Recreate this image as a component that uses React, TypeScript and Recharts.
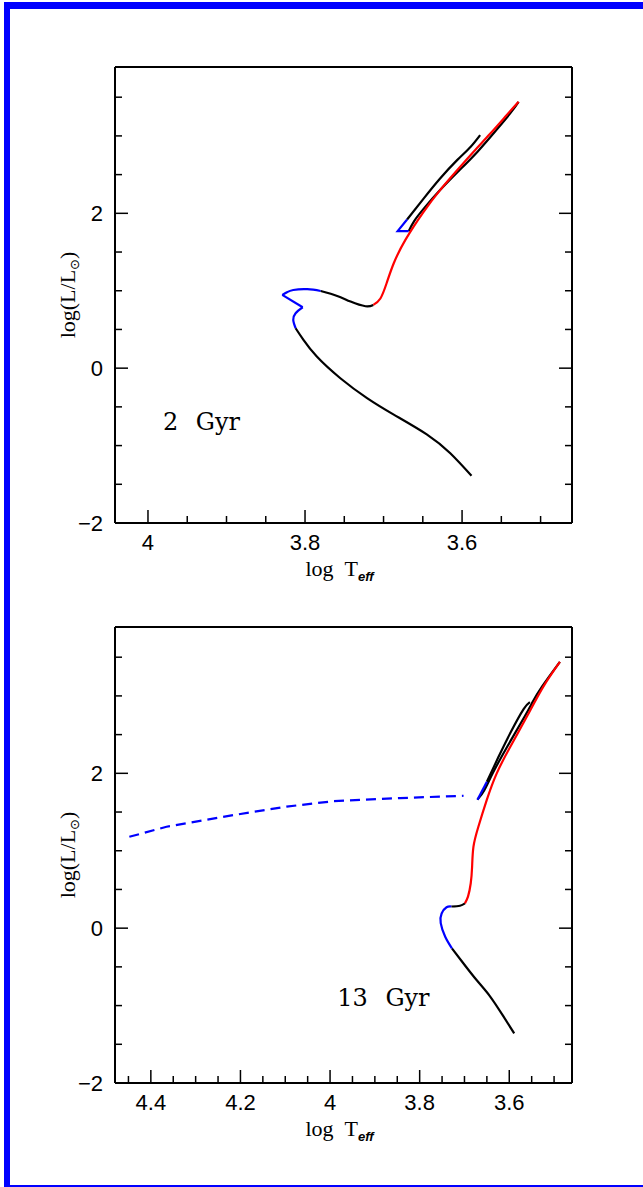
import React from 'react';
import { ComposedChart, Line, XAxis, YAxis, ReferenceDot, Label } from 'recharts';

type P = [number, number]; // [log Teff, log L]

// ---------- 2 Gyr isochrone ----------
const ms2: P[] = [[3.588, -1.39], [3.615, -1.1], [3.645, -0.855], [3.687, -0.6], [3.721, -0.387], [3.755, -0.13], [3.785, 0.15], [3.802, 0.365], [3.812, 0.516]];
const hookA2: P[] = [[3.812, 0.516], [3.815, 0.623], [3.812, 0.71], [3.803, 0.787]];
const hookB2: P[] = [[3.803, 0.787], [3.829, 0.946]];
const hookC2: P[] = [[3.829, 0.946], [3.823, 0.98], [3.815, 1.01], [3.797, 1.02], [3.78, 0.997]];
const sgb2: P[] = [[3.78, 0.997], [3.759, 0.933], [3.742, 0.86], [3.723, 0.8], [3.713, 0.817]];
const rgb2: P[] = [[3.713, 0.817], [3.704, 0.9], [3.696, 1.1], [3.687, 1.355], [3.672, 1.66], [3.649, 2.02], [3.628, 2.3], [3.606, 2.56], [3.585, 2.8], [3.564, 3.03], [3.543, 3.27], [3.528, 3.44]];
const tip2: P[] = [[3.528, 3.44], [3.538, 3.3], [3.556, 3.08], [3.58, 2.8], [3.605, 2.54], [3.628, 2.3], [3.648, 2.07], [3.661, 1.9], [3.668, 1.77]];
const hb2: P[] = [[3.668, 1.77], [3.682, 1.77], [3.67, 1.92]];
const agb2: P[] = [[3.67, 1.92], [3.649, 2.19], [3.628, 2.45], [3.606, 2.69], [3.589, 2.86], [3.577, 3.01]];

// ---------- 13 Gyr isochrone ----------
const ms13: P[] = [[3.589, -1.36], [3.613, -1.14], [3.643, -0.88], [3.673, -0.67], [3.703, -0.45], [3.728, -0.26]];
const hook13: P[] = [[3.728, -0.26], [3.743, -0.11], [3.753, 0.065], [3.751, 0.19], [3.74, 0.27], [3.729, 0.28]];
const sgb13: P[] = [[3.729, 0.28], [3.71, 0.29], [3.699, 0.32]];
const rgb13: P[] = [[3.699, 0.32], [3.692, 0.41], [3.686, 0.58], [3.683, 0.79], [3.68, 1.05], [3.669, 1.31], [3.65, 1.66], [3.628, 2.0], [3.598, 2.34], [3.561, 2.73], [3.524, 3.12], [3.487, 3.44]];
const tip13: P[] = [[3.487, 3.44], [3.527, 3.12], [3.548, 2.92], [3.566, 2.73], [3.605, 2.34], [3.637, 2.0], [3.656, 1.78], [3.671, 1.66]];
const hb13: P[] = [[3.671, 1.66], [3.65, 1.89]];
const agb13: P[] = [[3.65, 1.89], [3.625, 2.2], [3.596, 2.54], [3.568, 2.83], [3.554, 2.92]];
const bhb13: P[] = [[4.448, 1.18], [4.365, 1.31], [4.216, 1.46], [4.097, 1.57], [3.993, 1.64], [3.844, 1.68], [3.702, 1.71]];

// ---------- axes ----------
const xMajor2 = [4, 3.8, 3.6];
const xMinor2 = [3.95, 3.9, 3.85, 3.75, 3.7, 3.65, 3.55, 3.5];
const xMajor13 = [4.4, 4.2, 4, 3.8, 3.6];
const xMinor13 = [4.45, 4.35, 4.3, 4.25, 4.15, 4.1, 4.05, 3.95, 3.9, 3.85, 3.75, 3.7, 3.65, 3.55, 3.5];
const yMajor = [-2, 0, 2];
const yMinor = [-1.5, -1, -0.5, 0.5, 1, 1.5, 2.5, 3, 3.5];
const xDomain2: [number, number] = [3.46, 4.042];
const xDomain13: [number, number] = [3.46, 4.48];
const yDomain: [number, number] = [-2, 3.89];

const BLACK = '#000000';
const RED = '#ff0000';
const BLUE = '#0000ff';

type Seg = { pts: P[]; color: string; curve: 'natural' | 'linear'; dash?: string };

const segs2: Seg[] = [
  { pts: ms2, color: BLACK, curve: 'natural' },
  { pts: hookA2, color: BLUE, curve: 'natural' },
  { pts: hookB2, color: BLUE, curve: 'linear' },
  { pts: hookC2, color: BLUE, curve: 'natural' },
  { pts: sgb2, color: BLACK, curve: 'natural' },
  { pts: tip2, color: BLACK, curve: 'natural' },
  { pts: agb2, color: BLACK, curve: 'natural' },
  { pts: hb2, color: BLUE, curve: 'linear' },
  { pts: rgb2, color: RED, curve: 'natural' },
];

const segs13: Seg[] = [
  { pts: ms13, color: BLACK, curve: 'natural' },
  { pts: hook13, color: BLUE, curve: 'natural' },
  { pts: sgb13, color: BLACK, curve: 'natural' },
  { pts: tip13, color: BLACK, curve: 'natural' },
  { pts: agb13, color: BLACK, curve: 'natural' },
  { pts: hb13, color: BLUE, curve: 'linear' },
  { pts: rgb13, color: RED, curve: 'natural' },
  { pts: bhb13, color: BLUE, curve: 'linear', dash: '10 6' },
];

const toPts = (a: P[]) => a.map(([t, l]) => ({ t, l }));
const fmt = (v: number) => (v < 0 ? '\u2212' + Math.abs(v) : String(v));
const isIn = (arr: number[], v: number) => arr.some((m) => Math.abs(m - v) < 1e-9);
const sorted = (a: number[], b: number[]) => [...a, ...b].sort((p, q) => p - q);

const MAJOR_LEN = 13;
const MINOR_LEN = 7;
const TICK_FONT = "'Liberation Sans', Arial, sans-serif";
const X_GAP = 11;
const Y_GAP = 12;

type Side = 'bottom' | 'top' | 'left' | 'right';

const makeTick = (majors: number[], side: Side, withLabel: boolean) => (props: any) => {
  const { x, y, payload } = props;
  const v = payload.value as number;
  const major = isIn(majors, v);
  const len = major ? MAJOR_LEN : MINOR_LEN;
  let line: any = null;
  let label: any = null;
  if (side === 'bottom') {
    const y0 = y - X_GAP;
    line = <line x1={x} x2={x} y1={y0} y2={y0 - len} stroke="#000" strokeWidth={1.5} />;
    if (withLabel && major)
      label = (
        <text x={x} y={y} dy="0.71em" textAnchor="middle" fontFamily={TICK_FONT} fontSize={22} fill="#000">
          {fmt(v)}
        </text>
      );
  } else if (side === 'top') {
    line = <line x1={x} x2={x} y1={y} y2={y + len} stroke="#000" strokeWidth={1.5} />;
  } else if (side === 'left') {
    const x0 = x + Y_GAP;
    line = <line x1={x0} x2={x0 + len} y1={y} y2={y} stroke="#000" strokeWidth={1.5} />;
    if (withLabel && major)
      label = (
        <text x={x} y={y} dy="0.355em" textAnchor="end" fontFamily={TICK_FONT} fontSize={22} fill="#000">
          {fmt(v)}
        </text>
      );
  } else {
    line = <line x1={x} x2={x - len} y1={y} y2={y} stroke="#000" strokeWidth={1.5} />;
  }
  return (
    <g>
      {line}
      {label}
    </g>
  );
};

const XTitle = (props: any) => {
  const vb = props.viewBox || { x: 0, y: 0, width: 0, height: 0 };
  const cx = vb.x + vb.width / 2 - 4;
  const y = vb.y + 53;
  return (
    <text x={cx} y={y} textAnchor="middle" fontFamily="'Liberation Serif', serif" fontSize={22} fill="#000">
      log
      <tspan dx={11}>T</tspan>
      <tspan fontFamily="'Liberation Sans', sans-serif" fontWeight="bold" fontStyle="italic" fontSize={13} dy={5}>eff</tspan>
    </text>
  );
};

const YTitle = (props: any) => {
  const vb = props.viewBox || { x: 0, y: 0, width: 0, height: 0 };
  const x = vb.x + vb.width - 40;
  const cy = vb.y + vb.height / 2;
  return (
    <text x={x} y={cy} transform={`rotate(-90 ${x} ${cy})`} textAnchor="middle" fontFamily="'Liberation Serif', serif" fontSize={22} fill="#000">
      log(L/L
      <tspan fontFamily="'DejaVu Sans', sans-serif" fontSize={13} dy={4}>{'\u2299'}</tspan>
      <tspan dy={-4}>)</tspan>
    </text>
  );
};

type PanelProps = {
  xDomain: [number, number];
  xMajor: number[];
  xMinor: number[];
  segs: Seg[];
  ann: { t: number; l: number; text: string };
};

const frame = { stroke: '#000', strokeWidth: 2 };

function Panel({ xDomain, xMajor, xMinor, segs, ann }: PanelProps) {
  const xTicks = sorted(xMajor, xMinor);
  const yTicks = sorted(yMajor, yMinor);
  const commonX = { type: 'number' as const, domain: xDomain, reversed: true, allowDataOverflow: true, interval: 0 as const, ticks: xTicks, tickLine: false };
  const commonY = { type: 'number' as const, domain: yDomain, allowDataOverflow: true, interval: 0 as const, ticks: yTicks, tickLine: false };
  return (
    <ComposedChart width={643} height={600} margin={{ top: 67, right: 71, bottom: 27, left: 70 }}>
      <XAxis xAxisId="x" dataKey="t" {...commonX} axisLine={frame} tickSize={0} tickMargin={X_GAP} height={50} tick={makeTick(xMajor, 'bottom', true)}>
        <Label content={XTitle} />
      </XAxis>
      <XAxis xAxisId="xt" orientation="top" {...commonX} mirror height={1} axisLine={frame} tickSize={0} tickMargin={0} tick={makeTick(xMajor, 'top', false)} />
      <YAxis yAxisId="y" dataKey="l" {...commonY} axisLine={frame} tickSize={0} tickMargin={Y_GAP} width={45} tick={makeTick(yMajor, 'left', true)}>
        <Label content={YTitle} />
      </YAxis>
      <YAxis yAxisId="yr" orientation="right" {...commonY} mirror width={1} axisLine={frame} tickSize={0} tickMargin={0} tick={makeTick(yMajor, 'right', false)} />
      {segs.map((s, i) => (
        <Line
          key={i}
          xAxisId="x"
          yAxisId="y"
          data={toPts(s.pts)}
          dataKey="l"
          type={s.curve}
          stroke={s.color}
          strokeWidth={2.2}
          strokeDasharray={s.dash}
          dot={false}
          activeDot={false}
          isAnimationActive={false}
          legendType="none"
        />
      ))}
      <ReferenceDot
        xAxisId="x"
        yAxisId="y"
        x={ann.t}
        y={ann.l}
        r={1}
        fill="none"
        stroke="none"
        ifOverflow="visible"
        label={(p: any) => {
          const vb = p.viewBox || { x: 0, y: 0, width: 0, height: 0 };
          return (
            <text x={vb.x + vb.width / 2} y={vb.y + vb.height / 2} fontFamily="'DejaVu Serif', serif" fontSize={24} fill="#000" style={{ wordSpacing: 10 }}>
              {ann.text}
            </text>
          );
        }}
      />
    </ComposedChart>
  );
}

const bar = (left: number, top: number, width: number, height: number) => (
  <div style={{ position: 'absolute', left, top, width, height, background: '#0000ff' }} />
);

export default function App() {
  return (
    <div style={{ position: 'absolute', left: 0, top: 0, width: 643, height: 1187, background: '#fff', overflow: 'hidden' }}>
      {bar(4, 2, 639, 7)}
      {bar(4, 2, 6, 1185)}
      {bar(4, 1185, 639, 2)}
      <div style={{ position: 'absolute', left: 0, top: 0 }}>
        <Panel xDomain={xDomain2} xMajor={xMajor2} xMinor={xMinor2} segs={segs2} ann={{ t: 3.981, l: -0.8, text: '2 Gyr' }} />
      </div>
      <div style={{ position: 'absolute', left: 0, top: 560 }}>
        <Panel xDomain={xDomain13} xMajor={xMajor13} xMinor={xMinor13} segs={segs13} ann={{ t: 3.984, l: -1.01, text: '13 Gyr' }} />
      </div>
    </div>
  );
}
